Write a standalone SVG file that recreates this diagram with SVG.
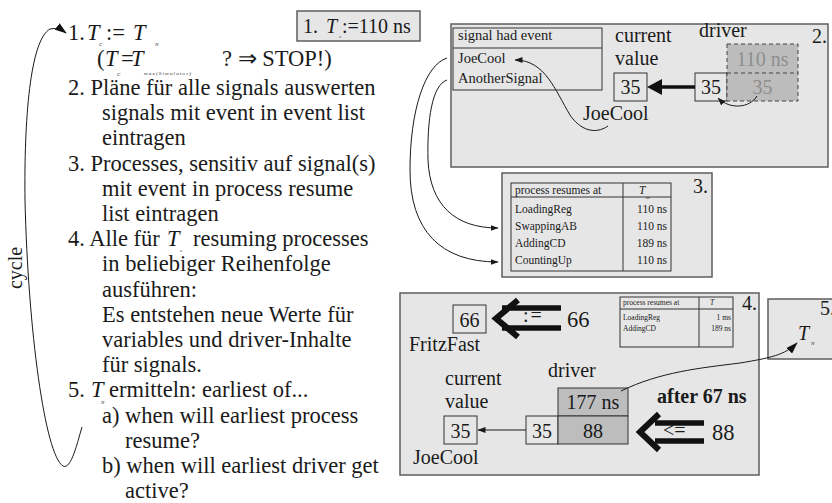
<svg xmlns="http://www.w3.org/2000/svg" width="832" height="503" viewBox="0 0 832 503">
  <style>
    text { font-family: "Liberation Serif", "Times New Roman", serif; fill: #1a1a1a; }
    .step { font-size: 22.5px; }
    .it { font-style: italic; }
    .sub { font-size: 5px; font-style: italic; }
    .lbl { font-size: 20px; }
    .sm { font-size: 14.5px; }
    .tb { font-size: 11.5px; }
    .tt { font-size: 7.5px; }
    .panel { fill: #e6e6e6; stroke: #5e5e5e; stroke-width: 1.5; }
    .cell { fill: none; stroke: #333; stroke-width: 1; }
    .box { fill: #e6e6e6; stroke: #333; stroke-width: 1; }
    .drv { fill: #bdbdbd; stroke: #333; stroke-width: 1; }
    .ghost { fill: #bcbcbc; stroke: #444; stroke-width: 1; stroke-dasharray: 4 3; }
    .faded { fill: #8e8e8e; }
    .thin { fill: none; stroke: #1a1a1a; stroke-width: 1; }
    .fat { fill: none; stroke: #111; stroke-width: 5.5; }
  </style>
  <defs>
    <marker id="tip" viewBox="0 0 8 6" markerWidth="8" markerHeight="6" refX="7.5" refY="3" orient="auto" markerUnits="userSpaceOnUse">
      <path d="M0,0 L8,3 L0,6 z" fill="#1a1a1a"/>
    </marker>
    <marker id="tipBig" viewBox="0 0 12 8" markerWidth="12" markerHeight="8" refX="11" refY="4" orient="auto" markerUnits="userSpaceOnUse">
      <path d="M0,0 L12,4 L0,8 z" fill="#111"/>
    </marker>
  </defs>

  <!-- step list of the simulation cycle -->
  <g id="steps">
    <text class="step" x="68" y="40">1.</text>
    <text class="step it" x="87" y="40">T</text>
    <text class="sub" x="99" y="46">C</text>
    <text class="step" x="106" y="40">:=</text>
    <text class="step it" x="133" y="40">T</text>
    <text class="sub" x="155" y="46">N</text>

    <text class="step" x="97" y="66">(</text>
    <text class="step it" x="105" y="66">T</text>
    <text class="sub" x="117" y="76">C</text>
    <text class="step" x="121" y="66">=</text>
    <text class="step it" x="131" y="66">T</text>
    <text class="sub" x="144" y="75" letter-spacing="1.2">max(Simulator)</text>
    <text class="step" x="222" y="66">? ⇒ STOP!)</text>

    <text class="step" x="68" y="95">2. Pläne für alle signals auswerten</text>
    <text class="step" x="102" y="120.2">signals mit event in event list</text>
    <text class="step" x="102" y="145.4">eintragen</text>
    <text class="step" x="68" y="170.6">3. Processes, sensitiv auf signal(s)</text>
    <text class="step" x="102" y="195.8">mit event in process resume</text>
    <text class="step" x="102" y="221">list eintragen</text>
    <text class="step" x="68" y="246.2">4. Alle für</text>
    <text class="step it" x="167" y="246.2">T</text>
    <text class="sub" x="180" y="252">c</text>
    <text class="step" x="193" y="246.2">resuming processes</text>
    <text class="step" x="102" y="271.4">in beliebiger Reihenfolge</text>
    <text class="step" x="102" y="296.6">ausführen:</text>
    <text class="step" x="102" y="321.8">Es entstehen neue Werte für</text>
    <text class="step" x="102" y="347">variables und driver-Inhalte</text>
    <text class="step" x="102" y="372.2">für signals.</text>
    <text class="step" x="68" y="397.4">5.</text>
    <text class="step it" x="91" y="397.4">T</text>
    <text class="sub" x="101" y="404">N</text>
    <text class="step" x="109" y="397.4">ermitteln: earliest of...</text>
    <text class="step" x="102" y="422.6">a) when will earliest process</text>
    <text class="step" x="125" y="447.8">resume?</text>
    <text class="step" x="102" y="473">b) when will earliest driver get</text>
    <text class="step" x="125" y="498.2">active?</text>

    <text class="lbl" font-size="19" text-anchor="middle" transform="translate(22,268) rotate(-90)">cycle</text>
  </g>

  <!-- step 1 result -->
  <g id="box1">
    <rect class="panel" x="297" y="11" width="123" height="30"/>
    <text class="lbl" font-size="21" x="303" y="33">1.</text>
    <text class="lbl it" font-size="21" x="326" y="33">T</text>
    <text class="sub" x="339" y="38">c</text>
    <text class="lbl" font-size="21" x="342" y="33">:=110 ns</text>
  </g>

  <!-- step 2: signals with events, driver to current value -->
  <g id="panel2">
    <rect class="panel" x="451" y="24" width="377" height="143"/>
    <rect class="cell" x="453" y="28" width="149" height="62"/>
    <line class="cell" x1="453" y1="48" x2="602" y2="48"/>
    <text class="sm" x="458" y="40">signal had event</text>
    <text class="sm" x="458" y="63">JoeCool</text>
    <text class="sm" x="458" y="83">AnotherSignal</text>

    <text class="lbl" x="615" y="42">current</text>
    <text class="lbl" x="615" y="65">value</text>
    <text class="lbl" x="699" y="37">driver</text>
    <text class="lbl" x="812" y="43">2.</text>

    <rect class="box" x="614" y="73" width="33" height="28"/>
    <text class="lbl" x="630.5" y="94" text-anchor="middle">35</text>
    <rect class="box" x="695" y="73" width="32" height="28"/>
    <text class="lbl" x="711" y="94" text-anchor="middle">35</text>
    <rect class="ghost" x="727" y="44" width="71" height="57"/>
    <line x1="727" y1="73" x2="798" y2="73" stroke="#444" stroke-width="1" stroke-dasharray="4 3"/>
    <text class="lbl faded" x="762.5" y="66" text-anchor="middle">110 ns</text>
    <text class="lbl faded" x="762.5" y="94" text-anchor="middle">35</text>

    <text class="lbl" x="583" y="120">JoeCool</text>
  </g>

  <!-- step 3: process resume list -->
  <g id="panel3">
    <rect class="panel" x="502" y="173" width="210" height="104"/>
    <rect class="cell" x="511" y="183" width="160" height="88"/>
    <line class="cell" x1="511" y1="197" x2="671" y2="197"/>
    <line class="cell" x1="623" y1="183" x2="623" y2="271"/>
    <text class="tb" x="515" y="194">process resumes at</text>
    <text class="tb it" x="639" y="194">T</text>
    <text class="sub" x="646" y="199" font-size="3.5">m</text>
    <text class="tb" x="515" y="213">LoadingReg</text>
    <text class="tb" x="515" y="230">SwappingAB</text>
    <text class="tb" x="515" y="247">AddingCD</text>
    <text class="tb" x="515" y="264">CountingUp</text>
    <text class="tb" x="667" y="213" text-anchor="end">110 ns</text>
    <text class="tb" x="667" y="230" text-anchor="end">110 ns</text>
    <text class="tb" x="667" y="247" text-anchor="end">189 ns</text>
    <text class="tb" x="667" y="264" text-anchor="end">110 ns</text>
    <text class="lbl" x="693" y="193">3.</text>
  </g>

  <!-- step 4: executing processes -->
  <g id="panel4">
    <rect class="panel" x="400" y="293" width="359" height="182"/>

    <rect class="box" x="453" y="305" width="33" height="28"/>
    <text class="lbl" x="469.5" y="327" text-anchor="middle">66</text>
    <text class="lbl" x="409" y="351">FritzFast</text>
    <line class="fat" x1="502" y1="308" x2="561" y2="308"/>
    <line class="fat" x1="502" y1="328" x2="561" y2="328"/>
    <polyline fill="none" stroke="#111" stroke-width="6" points="518,300 496,318.5 518,337"/>
    <text class="lbl" x="523" y="322" letter-spacing="2">:=</text>
    <text class="step" x="567" y="327">66</text>

    <rect class="cell" x="620" y="297" width="113" height="50"/>
    <line class="cell" x1="620" y1="309" x2="733" y2="309"/>
    <line class="cell" x1="699" y1="297" x2="699" y2="347"/>
    <text class="tt" x="623" y="305">process resumes at</text>
    <text class="tt it" x="710" y="305">T</text>
    <text class="tt" x="623" y="320">LoadingReg</text>
    <text class="tt" x="623" y="331">AddingCD</text>
    <text class="tt" x="731" y="320" text-anchor="end">1 ms</text>
    <text class="tt" x="731" y="331" text-anchor="end">189 ns</text>
    <text class="lbl" x="742" y="310">4.</text>

    <text class="lbl" x="548" y="377">driver</text>
    <text class="lbl" x="445" y="385">current</text>
    <text class="lbl" x="445" y="408">value</text>
    <rect class="box" x="444" y="416" width="33" height="28"/>
    <text class="lbl" x="460.5" y="438" text-anchor="middle">35</text>
    <text class="lbl" x="413" y="464">JoeCool</text>

    <rect class="box" x="526" y="416" width="32" height="28"/>
    <text class="lbl" x="542" y="438" text-anchor="middle">35</text>
    <rect class="drv" x="558" y="388" width="70" height="28"/>
    <rect class="drv" x="558" y="416" width="70" height="28"/>
    <text class="lbl" x="593" y="409" text-anchor="middle">177 ns</text>
    <text class="lbl" x="593" y="438" text-anchor="middle">88</text>

    <text class="lbl" x="657" y="403" font-weight="bold">after 67 ns</text>
    <line class="fat" x1="655" y1="423" x2="704" y2="423"/>
    <line class="fat" x1="655" y1="441" x2="704" y2="441"/>
    <polyline fill="none" stroke="#111" stroke-width="6" points="659,414 640,432 659,450"/>
    <text class="lbl" x="663" y="437" font-size="17" fill="#333">&lt;=</text>
    <text class="step" x="712" y="440">88</text>
  </g>

  <!-- step 5: next time point -->
  <g id="panel5">
    <rect class="panel" x="768" y="299" width="70" height="60"/>
    <text class="lbl" x="820" y="315">5.</text>
    <text class="lbl it" font-size="24" x="798" y="340">T</text>
    <text class="sub" x="811" y="345">N</text>
  </g>

  <!-- connectors -->
  <g id="connectors">
    <!-- cycle loop -->
    <path class="thin" stroke-width="1.6" d="M82,427 C77,444 71,470 63,466 C45,455 28,330 25,200 C24,120 30,40 50,29 Q58,27 66,33" marker-end="url(#tipBig)"/>
    <!-- JoeCool label back to signal list -->
    <path class="thin" d="M608,126 C595,135 580,130 570,115 C555,90 545,60 515,60" marker-end="url(#tip)"/>
    <!-- signal list to process resume list -->
    <path class="thin" d="M447,58 C425,65 410,110 410,170 C410,230 440,262 498,262" marker-end="url(#tip)"/>
    <path class="thin" d="M447,80 C432,85 427,120 428,160 C430,205 455,228 498,228" marker-end="url(#tip)"/>
    <!-- driver value copied to current value -->
    <line x1="695" y1="87" x2="660" y2="87" stroke="#111" stroke-width="3.5"/>
    <polygon points="647,87 662,79 662,95" fill="#111"/>
    <path class="thin" d="M757,96 C750,108 730,110 718,98" marker-end="url(#tip)"/>
    <!-- panel 4 driver to current value -->
    <line class="thin" x1="526" y1="430" x2="478" y2="430" marker-end="url(#tip)"/>
    <!-- driver time to next time point -->
    <path class="thin" stroke-width="1.6" d="M621,391 C660,372 700,368 740,363 C770,358 785,355 797,343" marker-end="url(#tipBig)"/>
  </g>
</svg>
